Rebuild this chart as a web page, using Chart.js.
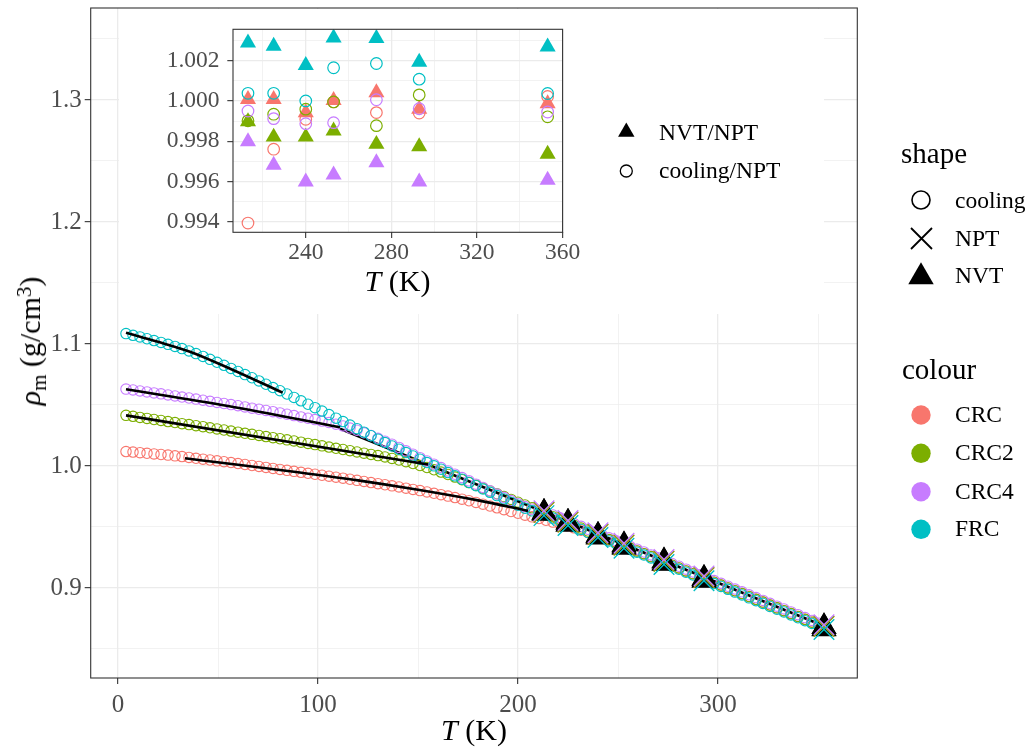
<!DOCTYPE html>
<html><head><meta charset="utf-8">
<script src="https://cdn.jsdelivr.net/npm/chart.js@4.4.0/dist/chart.umd.min.js"></script>
<style>
html,body{margin:0;padding:0;background:#fff;}
#wrap{position:relative;width:1030px;height:747px;overflow:hidden;background:#fff;font-family:"Liberation Serif",serif;color:#000;}
canvas{position:absolute;}
.t{position:absolute;white-space:nowrap;line-height:1;font-size:23.5px;}
</style></head><body>
<div id="wrap">
<canvas id="main" width="1030" height="747" style="left:0;top:0;width:1030px;height:747px"></canvas>
<canvas id="inset" width="705" height="305" style="left:118.7px;top:9px;width:705px;height:305px"></canvas>
<div class="t" style="left:659px;top:121px;">NVT/NPT</div>
<div class="t" style="left:659px;top:158.6px;">cooling/NPT</div>
<div class="t" style="left:901px;top:138.7px;font-size:29px">shape</div>
<div class="t" style="left:955px;top:188.6px;">cooling</div>
<div class="t" style="left:955px;top:227px;">NPT</div>
<div class="t" style="left:955px;top:264.3px;">NVT</div>
<div class="t" style="left:902px;top:354.7px;font-size:29px">colour</div>
<div class="t" style="left:955px;top:403px;">CRC</div>
<div class="t" style="left:955px;top:441.3px;">CRC2</div>
<div class="t" style="left:955px;top:479.6px;">CRC4</div>
<div class="t" style="left:955px;top:517.3px;">FRC</div>
<div class="t" style="left:474px;top:715px;font-size:30px;transform:translateX(-50%)"><i>T</i> (K)</div>
<div class="t" style="left:397.5px;top:266px;font-size:30px;transform:translateX(-50%)"><i>T</i> (K)</div>
<div class="t" style="left:30px;top:341px;font-size:30px;transform:translate(-50%,-50%) rotate(-90deg)"><i>ρ</i><span style="font-size:0.7em;position:relative;top:0.3em">m</span> (g/cm<span style="font-size:0.7em;position:relative;top:-0.45em">3</span>)</div>
</div>
<script>
// ---------- data ----------
const T = [4,7.5,11,14.5,18,21.5,25,28.5,32,35.5,39,42.5,46,49.5,53,56.5,60,63.5,67,70.5,
74,77.5,81,84.5,88,91.5,95,98.5,102,105.5,109,112.5,116,119.5,123,126.5,130,133.5,137,140.5,
144,147.5,151,154.5,158,161.5,165,168.5,172,175.5,179,182.5,186,189.5,193,196.5,200,203.5,207,210.5,
214,217.5,221,224.5,228,231.5,235,238.5,242,245.5,249,252.5,256,259.5,263,266.5,270,273.5,277,280.5,
284,287.5,291,294.5,298,301.5,305,308.5,312,315.5,319,322.5,326,329.5,333,336.5,340,343.5,347,350.5,353];

const rhoCRC = [1.0118,1.0114,1.0109,1.0104,1.0099,1.0094,1.0089,1.0083,1.0077,1.0070,
1.0063,1.0056,1.0049,1.0042,1.0035,1.0028,1.0020,1.0012,1.0004,0.9996,
0.9988,0.9980,0.9972,0.9964,0.9956,0.9948,0.9940,0.9932,0.9924,0.9916,
0.9908,0.9900,0.9891,0.9882,0.9873,0.9864,0.9855,0.9846,0.9837,0.9828,
0.9818,0.9808,0.9798,0.9787,0.9776,0.9765,0.9753,0.9741,0.9728,0.9715,
0.9701,0.9687,0.9672,0.9657,0.9642,0.9627,0.9612,0.9597,0.9583,0.9569,
0.9555,0.9540,0.9524,0.9510,0.9493,0.9474,0.9455,0.9436,0.9416,0.9395,
0.9373,0.9351,0.9328,0.9304,0.9281,0.9257,0.9234,0.9211,0.9187,0.9164,
0.9140,0.9117,0.9094,0.9070,0.9047,0.9024,0.9000,0.8977,0.8954,0.8930,
0.8907,0.8884,0.8860,0.8837,0.8814,0.8790,0.8767,0.8743,0.8720,0.8697,
0.8681];

const rhoCRC2 = [1.0415,1.0407,1.0398,1.0390,1.0381,1.0373,1.0364,1.0356,1.0347,1.0339,
1.0330,1.0322,1.0313,1.0304,1.0295,1.0286,1.0277,1.0268,1.0259,1.0250,
1.0241,1.0232,1.0223,1.0214,1.0205,1.0195,1.0185,1.0175,1.0165,1.0155,
1.0145,1.0135,1.0125,1.0115,1.0105,1.0095,1.0085,1.0074,1.0062,1.0049,
1.0035,1.0020,1.0004,0.9987,0.9969,0.9950,0.9930,0.9909,0.9887,0.9864,
0.9841,0.9818,0.9795,0.9772,0.9749,0.9726,0.9703,0.9680,0.9657,0.9634,
0.9607,0.9584,0.9561,0.9537,0.9514,0.9491,0.9467,0.9444,0.9421,0.9397,
0.9374,0.9351,0.9327,0.9304,0.9281,0.9257,0.9234,0.9211,0.9187,0.9164,
0.9140,0.9117,0.9094,0.9070,0.9047,0.9024,0.9000,0.8977,0.8954,0.8930,
0.8907,0.8884,0.8860,0.8837,0.8814,0.8790,0.8767,0.8743,0.8720,0.8697,
0.8680];

const rhoCRC4 = [1.0630,1.0623,1.0615,1.0607,1.0599,1.0591,1.0582,1.0574,1.0565,1.0557,
1.0548,1.0539,1.0530,1.0521,1.0512,1.0503,1.0494,1.0484,1.0474,1.0465,
1.0455,1.0445,1.0435,1.0424,1.0413,1.0402,1.0391,1.0380,1.0368,1.0356,
1.0343,1.0328,1.0311,1.0293,1.0272,1.0250,1.0227,1.0203,1.0178,1.0152,
1.0124,1.0096,1.0068,1.0041,1.0014,0.9987,0.9959,0.9932,0.9905,0.9878,
0.9851,0.9824,0.9797,0.9770,0.9743,0.9716,0.9691,0.9667,0.9646,0.9633,
0.9621,0.9598,0.9575,0.9551,0.9528,0.9505,0.9481,0.9458,0.9435,0.9411,
0.9388,0.9365,0.9341,0.9318,0.9295,0.9271,0.9248,0.9225,0.9201,0.9178,
0.9154,0.9131,0.9108,0.9084,0.9061,0.9038,0.9014,0.8991,0.8968,0.8944,
0.8921,0.8898,0.8874,0.8851,0.8828,0.8804,0.8781,0.8757,0.8734,0.8711,
0.8694];

const rhoFRC = [1.1085,1.1071,1.1058,1.1043,1.1028,1.1013,1.0997,1.0980,1.0962,1.0943,
1.0921,1.0898,1.0874,1.0850,1.0825,1.0800,1.0775,1.0749,1.0723,1.0697,
1.0670,1.0643,1.0617,1.0590,1.0562,1.0534,1.0506,1.0478,1.0450,1.0421,
1.0392,1.0364,1.0335,1.0306,1.0277,1.0248,1.0220,1.0192,1.0164,1.0137,
1.0110,1.0082,1.0055,1.0028,1.0001,0.9974,0.9946,0.9919,0.9892,0.9865,
0.9838,0.9811,0.9784,0.9757,0.9730,0.9703,0.9678,0.9654,0.9632,0.9613,
0.9596,0.9573,0.9550,0.9526,0.9503,0.9480,0.9456,0.9433,0.9410,0.9386,
0.9363,0.9340,0.9316,0.9293,0.9270,0.9246,0.9223,0.9200,0.9176,0.9153,
0.9129,0.9106,0.9083,0.9059,0.9036,0.9013,0.8989,0.8966,0.8943,0.8919,
0.8896,0.8873,0.8849,0.8826,0.8803,0.8779,0.8756,0.8732,0.8709,0.8686,
0.8669];

const simT = [213,225,240,253,273,293,353];
const nptCRC  = [0.9618,0.9538,0.9438,0.9351,0.9218,0.9084,0.8684];
const nptCRC2 = [0.9620,0.9540,0.9440,0.9353,0.9220,0.9086,0.8686];
const nptCRC4 = [0.9633,0.9553,0.9453,0.9366,0.9233,0.9099,0.8699];
const nptFRC  = [0.9593,0.9513,0.9413,0.9326,0.9193,0.9059,0.8659];
const nvtCRC  = [0.9619,0.9539,0.9433,0.9351,0.9222,0.9080,0.8683];
const nvtCRC2 = [0.9610,0.9523,0.9423,0.9339,0.9200,0.9065,0.8663];
const nvtCRC4 = [0.9614,0.9523,0.9415,0.9332,0.9205,0.9062,0.8665];
const nvtFRC  = [0.9621,0.9539,0.9430,0.9355,0.9222,0.9076,0.8682];

// fitted lines
const fitFRC_T = [4,20,36,57.5,82.3];        const fitFRC_rho = [1.1093,1.1018,1.0937,1.0787,1.0601];
const fitCRC4_T = [4,55,111];                 const fitCRC4_rho = [1.0629,1.0492,1.0317];
const fitCRC2_T = [4,155];                    const fitCRC2_rho = [1.0415,1.0012];
const fitCRC_T = [33.5,60,90,120,150,180,205]; const fitCRC_rho = [1.0063,1.0010,0.9948,0.9882,0.9805,0.9718,0.9632];
const fitMelt_T = [111,353];                  const fitMelt_rho = [1.0305,0.8688];

// inset ratios
const ratioNvtCRC  = [1.00008,1.00008,0.99942,1.00003,1.00041,0.99959,0.99987];
const ratioNvtCRC2 = [0.99897,0.99821,0.99821,0.99851,0.99785,0.99773,0.99736];
const ratioNvtCRC4 = [0.99798,0.99681,0.99598,0.99633,0.99694,0.99598,0.99607];
const ratioNvtFRC  = [1.00289,1.00273,1.00177,1.00314,1.00311,1.00193,1.00269];
const ratioCoolCRC  = [0.99393,0.99760,0.99909,0.99995,0.99942,0.99940,1.00022];
const ratioCoolCRC2 = [0.99901,0.99934,0.99959,0.99995,0.99877,1.00030,0.99921];
const ratioCoolCRC4 = [0.99950,0.99912,0.99887,0.99892,1.00006,0.99961,0.99945];
const ratioCoolFRC  = [1.00038,1.00038,1.00000,1.00165,1.00186,1.00108,1.00037];

const mainXTicks = [0,50,100,150,200,250,300,350];
const mainYTicks = [0.85,0.9,0.95,1.0,1.05,1.1,1.15,1.2,1.25,1.3,1.35];
const insetXTicks = [220,240,260,280,300,320,340,360];
const insetYTicks = [0.994,0.995,0.996,0.997,0.998,0.999,1.000,1.001,1.002,1.003];

const COL = {CRC:'#F8766D', CRC2:'#7CAE00', CRC4:'#C77CFF', FRC:'#00BFC4'};
const FONT = '"Liberation Serif", serif';

// ---------- helpers ----------
const pts = (xs, ys) => xs.map((x,i) => ({x:x, y:ys[i]}));
function circ(ctx,x,y,r,stroke,lw,fill){ctx.beginPath();ctx.arc(x,y,r,0,Math.PI*2);if(fill){ctx.fillStyle=fill;ctx.fill();}if(stroke){ctx.strokeStyle=stroke;ctx.lineWidth=lw;ctx.stroke();}}
function cross(ctx,x,y,h,col,lw){ctx.beginPath();ctx.moveTo(x-h,y-h);ctx.lineTo(x+h,y+h);ctx.moveTo(x+h,y-h);ctx.lineTo(x-h,y+h);ctx.strokeStyle=col;ctx.lineWidth=lw;ctx.stroke();}
function tri(ctx,x,y,r,fill){ctx.beginPath();ctx.moveTo(x,y-r);ctx.lineTo(x+r*0.866,y+r/2);ctx.lineTo(x-r*0.866,y+r/2);ctx.closePath();ctx.fillStyle=fill;ctx.fill();}
const near = (a,b) => Math.abs(a-b) < 1e-9;

// ---------- main chart ----------
const series = [['CRC',rhoCRC,nptCRC,nvtCRC],['CRC2',rhoCRC2,nptCRC2,nvtCRC2],['CRC4',rhoCRC4,nptCRC4,nvtCRC4],['FRC',rhoFRC,nptFRC,nvtFRC]];
const mainSets = [];
const lineSet = (xs,ys,ord) => ({data:pts(xs,ys), showLine:true, pointRadius:0, borderColor:'#000', borderWidth:2.6, cubicInterpolationMode:'monotone', order:ord});
mainSets.push(lineSet(fitFRC_T,fitFRC_rho,11), lineSet(fitCRC4_T,fitCRC4_rho,11), lineSet(fitCRC2_T,fitCRC2_rho,11), lineSet(fitCRC_T,fitCRC_rho,11), lineSet(fitMelt_T,fitMelt_rho,20));
series.forEach((s,k)=>{
  mainSets.push({data:pts(T,s[1]), pointStyle:'circle', pointRadius:5.2, borderWidth:1.1, borderColor:COL[s[0]], backgroundColor:'rgba(0,0,0,0)', order:15-k});
});
series.forEach((s,k)=>{
  mainSets.push({data:pts(simT,s[3]), pointStyle:'triangle', pointRadius:14.5, borderWidth:0, backgroundColor:'#000', borderColor:'#000', order:10});
});
series.forEach((s,k)=>{
  mainSets.push({data:pts(simT,s[2]), pointStyle:'crossRot', pointRadius:14.5, borderWidth:1.4, borderColor:COL[s[0]], backgroundColor:COL[s[0]], order:5-k});
});

const mainPlugin = {
  id:'mainDecor',
  afterDatasetsDraw(chart){
    const {ctx, chartArea:a} = chart; ctx.save();
    ctx.strokeStyle='#333333'; ctx.lineWidth=1.1; ctx.strokeRect(a.left,a.top,a.right-a.left,a.bottom-a.top);
    ctx.restore();
  },
  afterDraw(chart){
    const ctx = chart.ctx; ctx.save();
    circ(ctx,921,200,9,'#000',1.6,null);
    cross(ctx,921.5,238.5,10.5,'#000',1.8);
    tri(ctx,921,277,14.7,'#000');
    circ(ctx,921,415,9.7,null,0,COL.CRC);
    circ(ctx,921,453.3,9.7,null,0,COL.CRC2);
    circ(ctx,921,491.7,9.7,null,0,COL.CRC4);
    circ(ctx,921,529.3,9.7,null,0,COL.FRC);
    ctx.restore();
  }
};

new Chart(document.getElementById('main'), {
  type:'scatter',
  data:{datasets:mainSets},
  options:{
    responsive:false, animation:false, events:[], devicePixelRatio:1,
    layout:{autoPadding:false, padding:{left:0, top:8, right:1030-857.3, bottom:0}},
    plugins:{legend:{display:false}, tooltip:{enabled:false}},
    scales:{
      x:{type:'linear', min:-13.65, max:369.65,
        afterBuildTicks:s=>{s.ticks = mainXTicks.map(v=>({value:v}));},
        afterFit:s=>{s.height = 747-678; s.paddingLeft=0; s.paddingRight=0;},
        border:{display:false},
        grid:{color:'#EBEBEB', lineWidth:c=>(c.tick && c.tick.value%100===0)?1.3:0.65, tickLength:6,
          tickColor:c=>(c.tick && c.tick.value%100===0)?'#333333':'rgba(0,0,0,0)', tickWidth:1.1},
        ticks:{autoSkip:false, maxRotation:0, padding:6, color:'#4D4D4D', font:{family:FONT,size:25},
          callback:v=> (v%100===0)? String(v) : ''}
      },
      y:{type:'linear', min:0.8262, max:1.3754,
        afterBuildTicks:s=>{s.ticks = mainYTicks.map(v=>({value:v}));},
        afterFit:s=>{s.width = 90.7; s.paddingTop=0; s.paddingBottom=0;},
        border:{display:false},
        grid:{color:'#EBEBEB', lineWidth:c=>(c.tick && near(Math.round(c.tick.value*10)/10,c.tick.value))?1.3:0.65, tickLength:6,
          tickColor:c=>(c.tick && near(Math.round(c.tick.value*10)/10,c.tick.value))?'#333333':'rgba(0,0,0,0)', tickWidth:1.1},
        ticks:{autoSkip:false, padding:3, color:'#4D4D4D', font:{family:FONT,size:25},
          callback:v=> near(Math.round(v*10)/10,v) ? v.toFixed(1) : ''}
      }
    }
  },
  plugins:[mainPlugin]
});

// ---------- inset chart ----------
const insetSeries = [['CRC',ratioNvtCRC,ratioCoolCRC],['CRC2',ratioNvtCRC2,ratioCoolCRC2],['CRC4',ratioNvtCRC4,ratioCoolCRC4],['FRC',ratioNvtFRC,ratioCoolFRC]];
const insetSets = [];
insetSeries.forEach((s,k)=>{
  insetSets.push({data:pts(simT,s[1]), pointStyle:'triangle', pointRadius:9.3, borderWidth:0, backgroundColor:COL[s[0]], borderColor:COL[s[0]], order:20-2*k});
  insetSets.push({data:pts(simT,s[2]), pointStyle:'circle', pointRadius:5.8, borderWidth:1.2, borderColor:COL[s[0]], backgroundColor:'rgba(0,0,0,0)', order:19-2*k});
});
const isMajX = v => v%40===0;
const isMajY = v => Math.round(v*1000)%2===0;
const insetPlugin = {
  id:'insetDecor',
  beforeDraw(chart){ const ctx=chart.ctx; ctx.save(); ctx.fillStyle='#fff'; ctx.fillRect(0,0,chart.width,chart.height); ctx.restore(); },
  afterDatasetsDraw(chart){
    const {ctx, chartArea:a} = chart; ctx.save();
    ctx.strokeStyle='#333333'; ctx.lineWidth=1.1; ctx.strokeRect(a.left,a.top,a.right-a.left,a.bottom-a.top);
    ctx.restore();
  },
  afterDraw(chart){
    const ctx = chart.ctx; ctx.save();
    tri(ctx,626-118.7,132-9,9.5,'#000');
    circ(ctx,626-118.7,171-9,6,'#000',1.3,null);
    ctx.restore();
  }
};
new Chart(document.getElementById('inset'), {
  type:'scatter',
  data:{datasets:insetSets},
  options:{
    responsive:false, animation:false, events:[], devicePixelRatio:1,
    layout:{autoPadding:false, padding:{left:0, top:20.3, right:705-443.6, bottom:0}},
    plugins:{legend:{display:false}, tooltip:{enabled:false}},
    scales:{
      x:{type:'linear', min:206, max:360,
        afterBuildTicks:s=>{s.ticks = insetXTicks.map(v=>({value:v}));},
        afterFit:s=>{s.height = 305-223.3; s.paddingLeft=0; s.paddingRight=0;},
        border:{display:false},
        grid:{color:'#EBEBEB', lineWidth:c=>(c.tick && isMajX(c.tick.value))?1.3:0.65, tickLength:5.7,
          tickColor:c=>(c.tick && isMajX(c.tick.value))?'#333333':'rgba(0,0,0,0)', tickWidth:1.1},
        ticks:{autoSkip:false, maxRotation:0, padding:1.2, color:'#4D4D4D', font:{family:FONT,size:23.5},
          callback:v=> isMajX(v)? String(v) : ''}
      },
      y:{type:'linear', min:0.99347, max:1.00356,
        afterBuildTicks:s=>{s.ticks = insetYTicks.map(v=>({value:v}));},
        afterFit:s=>{s.width = 114; s.paddingTop=0; s.paddingBottom=0;},
        border:{display:false},
        grid:{color:'#EBEBEB', lineWidth:c=>(c.tick && isMajY(c.tick.value))?1.3:0.65, tickLength:5.7,
          tickColor:c=>(c.tick && isMajY(c.tick.value))?'#333333':'rgba(0,0,0,0)', tickWidth:1.1},
        ticks:{autoSkip:false, padding:7.7, color:'#4D4D4D', font:{family:FONT,size:23.5},
          callback:v=> isMajY(v) ? v.toFixed(3) : ''}
      }
    }
  },
  plugins:[insetPlugin]
});
</script>
</body></html>
